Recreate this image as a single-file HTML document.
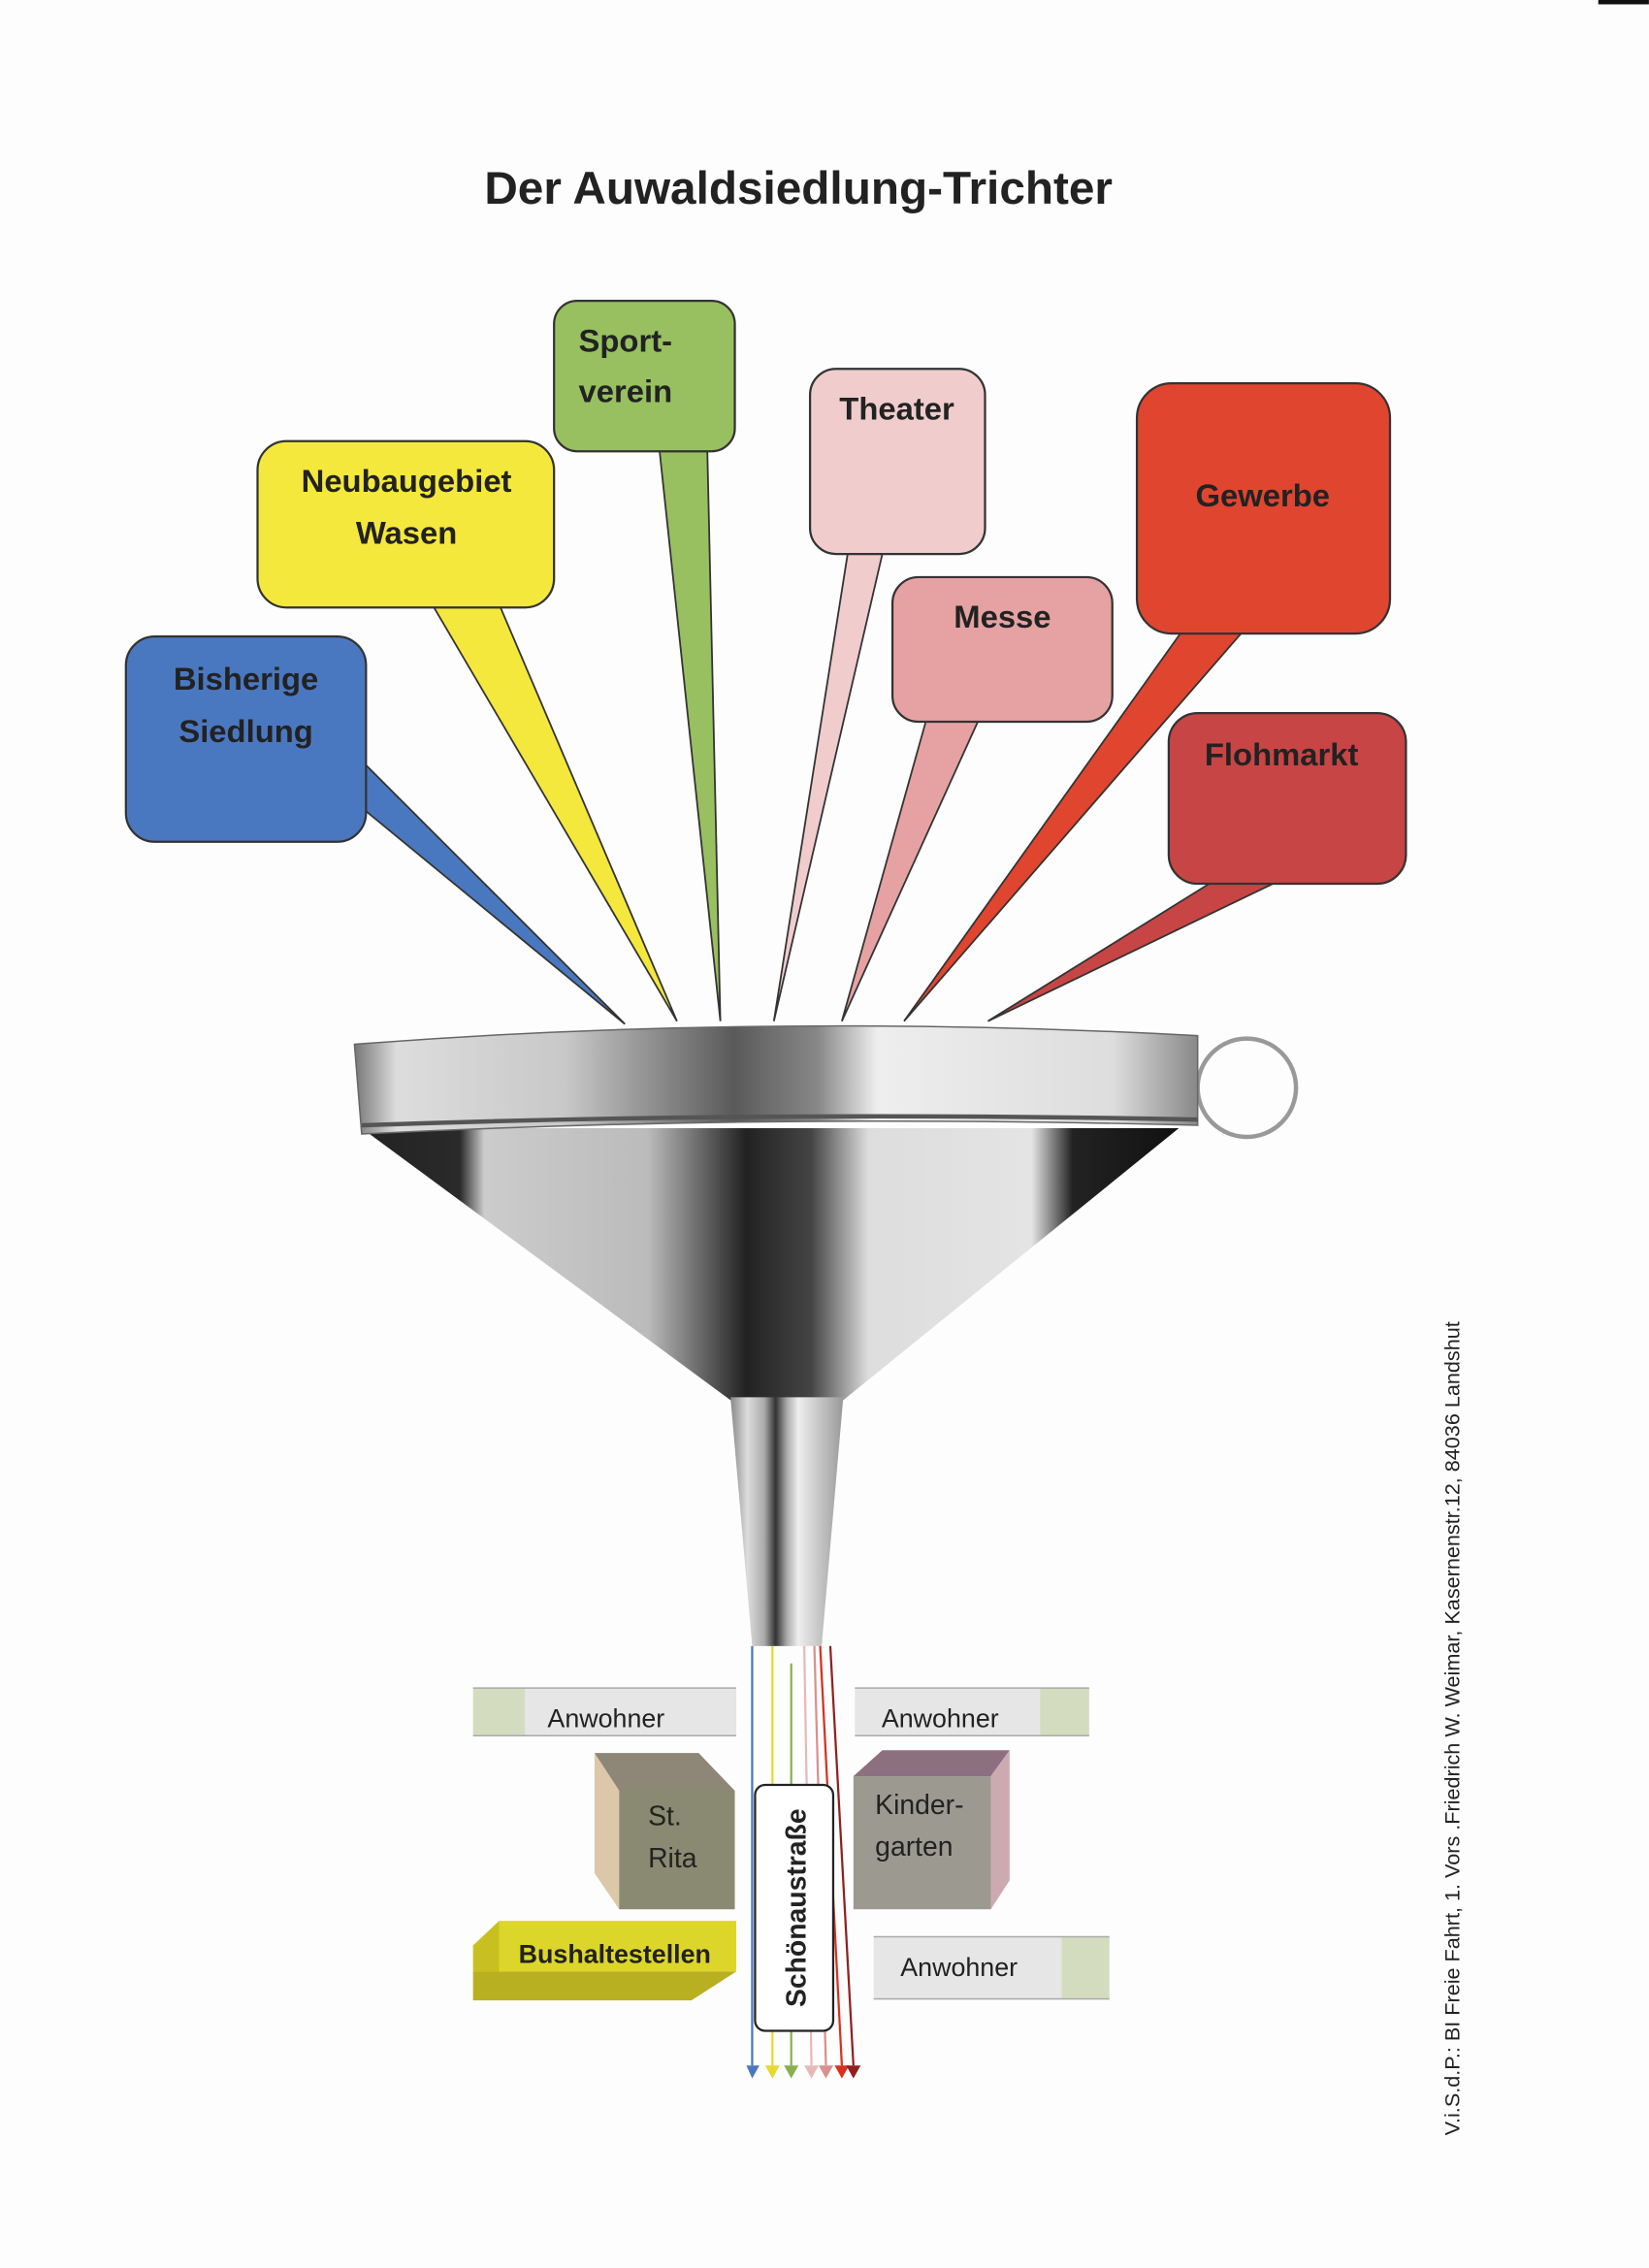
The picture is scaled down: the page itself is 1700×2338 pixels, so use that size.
<!DOCTYPE html>
<html><head><meta charset="utf-8">
<style>
html,body{margin:0;padding:0;background:#fff;}
svg{display:block;}
text{font-family:"Liberation Sans",sans-serif;fill:#222;}
</style></head>
<body>
<svg width="1700" height="2338" viewBox="0 0 1140 1568" xmlns="http://www.w3.org/2000/svg">
<defs>
<linearGradient id="rim" x1="0" x2="1" y1="0" y2="0">
<stop offset="0" stop-color="#777"/><stop offset="0.05" stop-color="#ddd"/><stop offset="0.25" stop-color="#c8c8c8"/>
<stop offset="0.45" stop-color="#5a5a5a"/><stop offset="0.55" stop-color="#888"/><stop offset="0.62" stop-color="#eee"/>
<stop offset="0.9" stop-color="#ddd"/><stop offset="1" stop-color="#888"/></linearGradient>
<linearGradient id="cone" x1="0" x2="1" y1="0" y2="0">
<stop offset="0" stop-color="#222"/><stop offset="0.12" stop-color="#2a2a2a"/><stop offset="0.15" stop-color="#ccc"/>
<stop offset="0.35" stop-color="#bbb"/><stop offset="0.47" stop-color="#222"/><stop offset="0.55" stop-color="#444"/>
<stop offset="0.62" stop-color="#ddd"/><stop offset="0.82" stop-color="#e4e4e4"/><stop offset="0.87" stop-color="#222"/><stop offset="1" stop-color="#111"/></linearGradient>
<linearGradient id="spout" x1="0" x2="1" y1="0" y2="0">
<stop offset="0" stop-color="#888"/><stop offset="0.15" stop-color="#ddd"/><stop offset="0.3" stop-color="#aaa"/>
<stop offset="0.4" stop-color="#333"/><stop offset="0.5" stop-color="#aaa"/><stop offset="0.6" stop-color="#eee"/><stop offset="1" stop-color="#999"/></linearGradient>
</defs>
<rect x="0" y="0" width="1140" height="1568" fill="#fdfdfd"/>
<rect x="1105" y="0" width="35" height="3" fill="#111"/>

<text x="552" y="141" text-anchor="middle" font-size="32" font-weight="bold" fill="#333">Der Auwaldsiedlung-Trichter</text>

<!-- tails -->
<g stroke="#333" stroke-width="1.2">
<polygon points="252,528 252,560 432,708" fill="#4a78c0"/>
<polygon points="300,420 346,420 468,706" fill="#f4e83c"/>
<polygon points="456,312 489,312 498,706" fill="#98c060"/>
<polygon points="586,383 610,383 535,706" fill="#f0cccc"/>
<polygon points="640,499 676,499 582,706" fill="#e6a2a2"/>
<polygon points="816,438 858,438 625,706" fill="#e04530"/>
<polygon points="836,611 880,611 683,706" fill="#c84545"/>
</g>
<!-- bubbles -->
<g stroke="#333" stroke-width="1.5">
<rect x="87" y="440" width="166" height="142" rx="20" fill="#4a78c0"/>
<rect x="178" y="305" width="205" height="115" rx="20" fill="#f4e83c"/>
<rect x="383" y="208" width="125" height="104" rx="16" fill="#98c060"/>
<rect x="560" y="255" width="121" height="128" rx="18" fill="#f0cccc"/>
<rect x="617" y="399" width="152" height="100" rx="18" fill="#e6a2a2"/>
<rect x="786" y="265" width="175" height="173" rx="24" fill="#e04530"/>
<rect x="808" y="493" width="164" height="118" rx="20" fill="#c84545"/>
</g>
<g font-size="22" font-weight="bold" fill="#2a2a2a">
<text x="170" y="477" text-anchor="middle">Bisherige</text>
<text x="170" y="513" text-anchor="middle">Siedlung</text>
<text x="281" y="340" text-anchor="middle">Neubaugebiet</text>
<text x="281" y="376" text-anchor="middle">Wasen</text>
<text x="400" y="243">Sport-</text>
<text x="400" y="278">verein</text>
<text x="620" y="290" text-anchor="middle">Theater</text>
<text x="693" y="434" text-anchor="middle">Messe</text>
<text x="873" y="350" text-anchor="middle">Gewerbe</text>
<text x="886" y="529" text-anchor="middle">Flohmarkt</text>
</g>

<!-- funnel -->
<circle cx="862" cy="752" r="34" fill="none" stroke="#999" stroke-width="3"/>
<polygon points="250,780 815,780 583,968 505,968" fill="url(#cone)"/>
<polygon points="505,966 583,966 568,1138 520,1138" fill="url(#spout)"/>
<path d="M245,722 Q530,700 828,716 L828,778 Q530,770 250,784 Z" fill="url(#rim)" stroke="#666" stroke-width="1"/>
<path d="M250,778 Q530,768 828,774" fill="none" stroke="#555" stroke-width="3"/>

<!-- lines -->
<g stroke-width="1.5" fill="none">
<line x1="520" y1="1138" x2="520" y2="1428" stroke="#4a78c0"/>
<line x1="534" y1="1138" x2="534" y2="1428" stroke="#e8d830"/>
<line x1="547" y1="1150" x2="547" y2="1428" stroke="#88b050"/>
<line x1="556" y1="1138" x2="561" y2="1428" stroke="#e8b8b8"/>
<line x1="563" y1="1138" x2="571" y2="1428" stroke="#d89090"/>
<line x1="567" y1="1138" x2="582" y2="1428" stroke="#d83020"/>
<line x1="574" y1="1138" x2="590" y2="1428" stroke="#902020"/>
</g>
<g>
<polygon points="516,1428 525,1428 520,1437" fill="#4a78c0"/>
<polygon points="529,1428 539,1428 534,1437" fill="#e8d830"/>
<polygon points="542,1428 552,1428 547,1437" fill="#88b050"/>
<polygon points="556,1428 566,1428 561,1437" fill="#e8b8b8"/>
<polygon points="566,1428 576,1428 571,1437" fill="#d89090"/>
<polygon points="577,1428 587,1428 582,1437" fill="#d83020"/>
<polygon points="585,1428 595,1428 590,1437" fill="#902020"/>
</g>

<!-- Anwohner bars -->
<rect x="327" y="1167" width="36" height="33" fill="#d4dcc0"/>
<rect x="363" y="1167" width="146" height="33" fill="#e6e6e6"/>
<line x1="327" y1="1167" x2="509" y2="1167" stroke="#aaa"/><line x1="327" y1="1200" x2="509" y2="1200" stroke="#aaa"/>
<text x="419" y="1194" text-anchor="middle" font-size="18" fill="#222">Anwohner</text>
<rect x="591" y="1167" width="128" height="33" fill="#e6e6e6"/>
<rect x="719" y="1167" width="34" height="33" fill="#d4dcc0"/>
<line x1="591" y1="1167" x2="753" y2="1167" stroke="#aaa"/><line x1="591" y1="1200" x2="753" y2="1200" stroke="#aaa"/>
<text x="650" y="1194" text-anchor="middle" font-size="18" fill="#222">Anwohner</text>
<rect x="604" y="1339" width="130" height="43" fill="#e6e6e6"/>
<rect x="734" y="1339" width="33" height="43" fill="#d4dcc0"/>
<line x1="604" y1="1339" x2="767" y2="1339" stroke="#aaa"/><line x1="604" y1="1382" x2="767" y2="1382" stroke="#aaa"/>
<text x="663" y="1366" text-anchor="middle" font-size="18" fill="#222">Anwohner</text>

<!-- St. Rita cube -->
<polygon points="411,1212 483,1212 508,1238 428,1238" fill="#8e8676"/>
<polygon points="411,1212 428,1238 428,1320 411,1295" fill="#dcc8a8"/>
<rect x="428" y="1238" width="80" height="82" fill="#8a8a72"/>
<text x="448" y="1262" font-size="19" fill="#222">St.</text>
<text x="448" y="1291" font-size="19" fill="#222">Rita</text>
<!-- Kindergarten cube -->
<polygon points="590,1228 610,1210 698,1210 685,1228" fill="#8c7080"/>
<polygon points="685,1228 698,1210 698,1300 685,1320" fill="#ccaab0"/>
<rect x="590" y="1228" width="95" height="92" fill="#9c9a90"/>
<text x="605" y="1254" font-size="19" fill="#222">Kinder-</text>
<text x="605" y="1283" font-size="19" fill="#222">garten</text>
<!-- Bushaltestellen -->
<polygon points="345,1328 509,1328 509,1363 327,1363" fill="#ddd62a"/>
<polygon points="327,1363 509,1363 478,1383 327,1383" fill="#b8b020"/>
<polygon points="327,1345 345,1328 345,1363 327,1363" fill="#c8c020"/>
<text x="425" y="1357" text-anchor="middle" font-size="18" font-weight="bold" fill="#222">Bushaltestellen</text>

<!-- Schönaustraße -->
<rect x="522" y="1234" width="54" height="170" rx="7" fill="#fff" stroke="#222" stroke-width="1.5"/>
<text transform="translate(557,1319) rotate(-90)" text-anchor="middle" font-size="19" font-weight="bold" fill="#222">Schönaustraße</text>

<!-- imprint -->
<text transform="translate(1009,1195) rotate(-90)" text-anchor="middle" font-size="14.5" fill="#333">V.i.S.d.P.: BI  Freie Fahrt, 1. Vors .Friedrich W. Weimar, Kasernenstr.12, 84036 Landshut</text>
</svg>
</body></html>
